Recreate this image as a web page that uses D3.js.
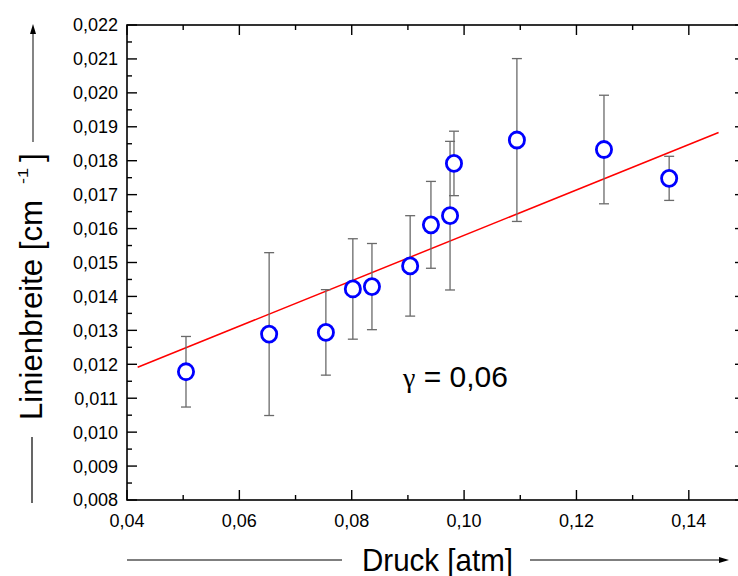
<!DOCTYPE html>
<html>
<head>
<meta charset="utf-8">
<script src="https://cdn.jsdelivr.net/npm/d3@7"></script>
<style>
  html, body { margin: 0; padding: 0; background: #fff; }
  svg text { font-family: "Liberation Sans", Arial, sans-serif; fill: #000; }
</style>
</head>
<body>
<svg id="chart" width="738" height="576"></svg>
<script>
// Measured line widths vs. pressure, with symmetric uncertainties
const pressure = [0.0505, 0.0653, 0.0754, 0.0802, 0.0836, 0.0904, 0.0941, 0.0975, 0.0982, 0.1094, 0.1249, 0.1365];
const lineWidth = [0.01178, 0.01289, 0.01294, 0.01422, 0.01429, 0.01490, 0.01611, 0.01638, 0.01792, 0.01861, 0.01833, 0.01748];
const widthErr = [0.00104, 0.00240, 0.00126, 0.00148, 0.00127, 0.00148, 0.00128, 0.00219, 0.00095, 0.00240, 0.00160, 0.00065];

// Linear fit y = intercept + slope * x over the fitted range
const fitSlope = 0.0669;
const fitIntercept = 0.00911;
const fitRange = [0.0419, 0.1453];

const xTicks = [0.04, 0.06, 0.08, 0.10, 0.12, 0.14];
const yTicks = [0.008, 0.009, 0.010, 0.011, 0.012, 0.013, 0.014, 0.015, 0.016, 0.017, 0.018, 0.019, 0.020, 0.021, 0.022];

const svg = d3.select("#chart");
const plotL = 127, plotR = 745, plotT = 25, plotB = 500;

const x = d3.scaleLinear().domain([0.04, 0.15]).range([plotL, plotR]);
const y = d3.scaleLinear().domain([0.008, 0.022]).range([plotB, plotT]);

const comma = d => d.toString().replace(".", ",");
const fmtX = d => comma(d3.format(".2f")(d));
const fmtY = d => comma(d3.format(".3f")(d));

// Frame
svg.append("rect").attr("x", plotL).attr("y", plotT)
  .attr("width", plotR - plotL).attr("height", plotB - plotT)
  .attr("fill", "none").attr("stroke", "#000").attr("stroke-width", 1.6);

const xMinor = d3.range(0.05, 0.15, 0.02);
const yMinor = d3.range(0.0085, 0.022, 0.001);

const tickG = svg.append("g").attr("stroke", "#000").attr("stroke-width", 1.4);
// Inward ticks on all four sides
xTicks.forEach(v => {
  tickG.append("line").attr("x1", x(v)).attr("x2", x(v)).attr("y1", plotB).attr("y2", plotB - 10);
  tickG.append("line").attr("x1", x(v)).attr("x2", x(v)).attr("y1", plotT).attr("y2", plotT + 10);
});
xMinor.forEach(v => {
  tickG.append("line").attr("x1", x(v)).attr("x2", x(v)).attr("y1", plotB).attr("y2", plotB - 5);
  tickG.append("line").attr("x1", x(v)).attr("x2", x(v)).attr("y1", plotT).attr("y2", plotT + 5);
});
yTicks.forEach(v => {
  tickG.append("line").attr("x1", plotL).attr("x2", plotL + 10).attr("y1", y(v)).attr("y2", y(v));
  tickG.append("line").attr("x1", plotR).attr("x2", plotR - 10).attr("y1", y(v)).attr("y2", y(v));
});
yMinor.forEach(v => {
  tickG.append("line").attr("x1", plotL).attr("x2", plotL + 5).attr("y1", y(v)).attr("y2", y(v));
  tickG.append("line").attr("x1", plotR).attr("x2", plotR - 5).attr("y1", y(v)).attr("y2", y(v));
});

// Tick labels
svg.append("g").selectAll("text").data(xTicks).join("text")
  .attr("x", d => x(d)).attr("y", 527)
  .attr("text-anchor", "middle").attr("font-size", 18)
  .text(fmtX);
svg.append("g").selectAll("text").data(yTicks).join("text")
  .attr("x", 118).attr("y", d => y(d)).attr("dy", "0.36em")
  .attr("text-anchor", "end").attr("font-size", 18)
  .text(fmtY);

// Fit line
svg.append("line")
  .attr("x1", x(fitRange[0])).attr("y1", y(fitIntercept + fitSlope * fitRange[0]))
  .attr("x2", x(fitRange[1])).attr("y2", y(fitIntercept + fitSlope * fitRange[1]))
  .attr("stroke", "#ff0000").attr("stroke-width", 1.5);

// Error bars
const data = pressure.map((p, i) => ({ p, w: lineWidth[i], e: widthErr[i] }));
const eb = svg.append("g").attr("stroke", "#6a6a6a").attr("stroke-width", 1.3);
data.forEach(d => {
  const cx = x(d.p);
  eb.append("line").attr("x1", cx).attr("x2", cx).attr("y1", y(d.w - d.e)).attr("y2", y(d.w + d.e));
  eb.append("line").attr("x1", cx - 5).attr("x2", cx + 5).attr("y1", y(d.w - d.e)).attr("y2", y(d.w - d.e));
  eb.append("line").attr("x1", cx - 5).attr("x2", cx + 5).attr("y1", y(d.w + d.e)).attr("y2", y(d.w + d.e));
});

// Data markers
svg.append("g").selectAll("ellipse").data(data).join("ellipse")
  .attr("cx", d => x(d.p)).attr("cy", d => y(d.w))
  .attr("rx", 7.6).attr("ry", 8)
  .attr("fill", "#fff").attr("stroke", "#0000ff").attr("stroke-width", 2.8);

// Annotation: gamma in a serif face, value in sans
const ann = svg.append("text").attr("x", 403).attr("y", 387).attr("font-size", 30);
ann.append("tspan").attr("font-family", "'Liberation Serif', 'DejaVu Serif', serif").attr("font-size", 28).text("γ");
ann.append("tspan").text(" = 0,06");

// Axis titles with direction arrows
const arrowHead = (g, pts) => g.append("path").attr("d", d3.line()(pts) + "Z").attr("fill", "#000");

svg.append("text").attr("x", 362).attr("y", 571).attr("font-size", 32)
  .attr("textLength", 151).attr("lengthAdjust", "spacingAndGlyphs")
  .text("Druck [atm]");
svg.append("line").attr("x1", 127).attr("x2", 342).attr("y1", 560).attr("y2", 560)
  .attr("stroke", "#000").attr("stroke-width", 1.2);
svg.append("line").attr("x1", 530).attr("x2", 722).attr("y1", 560).attr("y2", 560)
  .attr("stroke", "#000").attr("stroke-width", 1.2);
arrowHead(svg, [[729, 560], [719, 557], [719, 563]]);

svg.append("text").attr("transform", "translate(42,420) rotate(-90)")
  .attr("font-size", 32).attr("textLength", 220).attr("lengthAdjust", "spacingAndGlyphs")
  .text("Linienbreite [cm");
svg.append("text").attr("transform", "translate(28,184) rotate(-90)")
  .attr("font-size", 14).attr("textLength", 16).attr("lengthAdjust", "spacingAndGlyphs")
  .text("-1");
svg.append("text").attr("transform", "translate(42,162) rotate(-90)")
  .attr("font-size", 32).text("]");
svg.append("line").attr("x1", 33).attr("x2", 33).attr("y1", 142).attr("y2", 32)
  .attr("stroke", "#333").attr("stroke-width", 1.2);
arrowHead(svg, [[33, 24], [30, 34], [36, 34]]);
svg.append("line").attr("x1", 32).attr("x2", 32).attr("y1", 437).attr("y2", 503)
  .attr("stroke", "#000").attr("stroke-width", 1.2);
</script>
</body>
</html>
